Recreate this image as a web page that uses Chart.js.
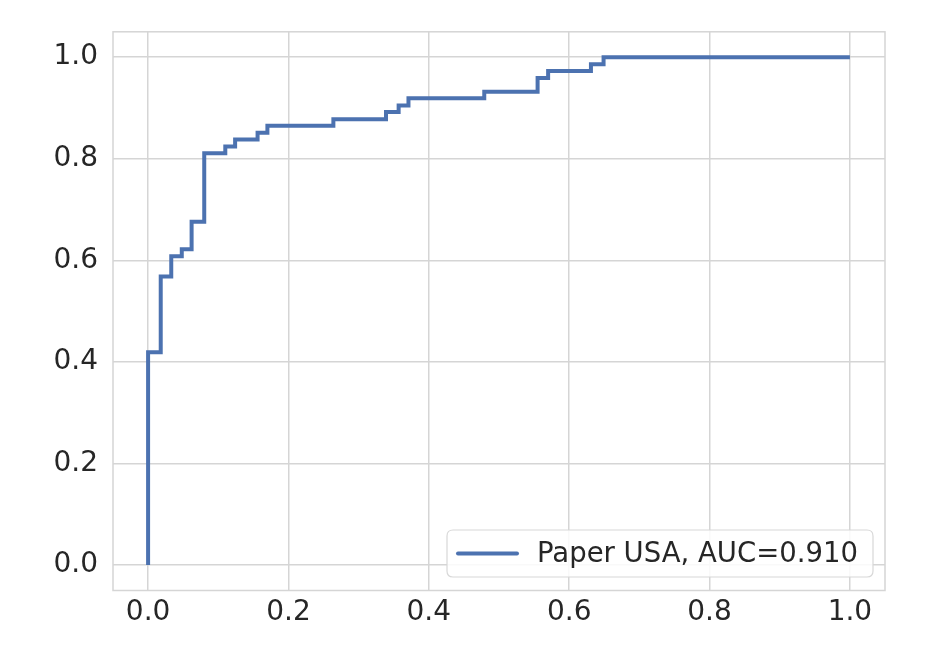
<!DOCTYPE html>
<html>
<head>
<meta charset="utf-8">
<script src="https://cdn.jsdelivr.net/npm/chart.js@4/dist/chart.umd.min.js"></script>
<style>
  html, body { margin: 0; padding: 0; background: #ffffff; }
  #wrap { width: 949px; height: 657px; }
</style>
</head>
<body>
<div id="wrap"><canvas id="c" width="949" height="657"></canvas></div>
<script>
// ROC curve corner points (false positive rate, true positive rate)
const fpr = [0, 0, 0.018, 0.018, 0.033, 0.033, 0.048, 0.048, 0.062, 0.062, 0.080, 0.080,
             0.110, 0.110, 0.124, 0.124, 0.156, 0.156, 0.170, 0.170, 0.264, 0.264,
             0.339, 0.339, 0.357, 0.357, 0.371, 0.371, 0.479, 0.479, 0.555, 0.555,
             0.570, 0.570, 0.631, 0.631, 0.649, 0.649, 1.0];
const tpr = [0, 0.419, 0.419, 0.568, 0.568, 0.608, 0.608, 0.622, 0.622, 0.676, 0.676, 0.811,
             0.811, 0.824, 0.824, 0.838, 0.838, 0.851, 0.851, 0.865, 0.865, 0.878,
             0.878, 0.892, 0.892, 0.905, 0.905, 0.919, 0.919, 0.932, 0.932, 0.959,
             0.959, 0.973, 0.973, 0.986, 0.986, 1.0, 1.0];
const seriesLabel = "Paper USA, AUC=0.910";
const xTicks = [0.0, 0.2, 0.4, 0.6, 0.8, 1.0];
const yTicks = [0.0, 0.2, 0.4, 0.6, 0.8, 1.0];

const LINE = '#4c72b0';
const GRID = '#d5d5d5';
const TEXT = '#262626';
const FONT = "'DejaVu Sans', sans-serif";
const FS = 28;
const LFS = 27.5;

const points = fpr.map((x, i) => ({ x: x, y: tpr[i] }));

const framePlugin = {
  id: 'frame',
  afterDraw(chart) {
    const { ctx, chartArea: a } = chart;
    ctx.save();
    ctx.strokeStyle = GRID;
    ctx.lineWidth = 1.5;
    ctx.strokeRect(a.left, a.top, a.right - a.left, a.bottom - a.top);
    // legend box
    const w = 426, h = 47;
    const bx = a.right - 12 - w, by = a.bottom - 13.5 - h;
    const r = 6;
    ctx.beginPath();
    ctx.moveTo(bx + r, by);
    ctx.lineTo(bx + w - r, by);
    ctx.quadraticCurveTo(bx + w, by, bx + w, by + r);
    ctx.lineTo(bx + w, by + h - r);
    ctx.quadraticCurveTo(bx + w, by + h, bx + w - r, by + h);
    ctx.lineTo(bx + r, by + h);
    ctx.quadraticCurveTo(bx, by + h, bx, by + h - r);
    ctx.lineTo(bx, by + r);
    ctx.quadraticCurveTo(bx, by, bx + r, by);
    ctx.closePath();
    ctx.fillStyle = 'rgba(255,255,255,0.85)';
    ctx.fill();
    ctx.strokeStyle = '#d8d8d8';
    ctx.lineWidth = 1.2;
    ctx.stroke();
    const cy = by + h / 2;
    ctx.beginPath();
    ctx.moveTo(bx + 11, cy);
    ctx.lineTo(bx + 70, cy);
    ctx.strokeStyle = LINE;
    ctx.lineWidth = 4;
    ctx.lineCap = 'round';
    ctx.stroke();
    ctx.fillStyle = TEXT;
    ctx.font = LFS + 'px ' + FONT;
    ctx.textBaseline = 'middle';
    ctx.textAlign = 'left';
    ctx.fillText(seriesLabel, bx + 90, cy + 1);
    ctx.restore();
  }
};

new Chart(document.getElementById('c'), {
  type: 'line',
  data: {
    datasets: [{
      label: seriesLabel,
      data: points,
      borderColor: LINE,
      borderWidth: 4,
      pointRadius: 0,
      tension: 0,
      fill: false,
      borderJoinStyle: 'miter',
      borderCapStyle: 'butt'
    }]
  },
  options: {
    responsive: false,
    animation: false,
    devicePixelRatio: 1,
    layout: { padding: { top: 29.5, right: 64, left: 0, bottom: 0 } },
    plugins: { legend: { display: false }, tooltip: { enabled: false } },
    scales: {
      x: {
        type: 'linear',
        min: -0.05, max: 1.05,
        afterBuildTicks: s => { s.ticks = xTicks.map(v => ({ value: v })); },
        afterFit: s => { s.height = 66.5; },
        grid: { color: GRID, lineWidth: 1.5, drawTicks: false },
        border: { display: false },
        ticks: {
          color: TEXT, font: { family: FONT, size: FS }, padding: 5,
          maxRotation: 0, autoSkip: false,
          callback: v => Number(v).toFixed(1)
        }
      },
      y: {
        type: 'linear',
        min: -0.05, max: 1.05,
        afterBuildTicks: s => { s.ticks = yTicks.map(v => ({ value: v })); },
        afterFit: s => { s.width = 113; },
        grid: { color: GRID, lineWidth: 1.5, drawTicks: false },
        border: { display: false },
        ticks: {
          color: TEXT, font: { family: FONT, size: FS }, padding: 15,
          autoSkip: false,
          callback: v => Number(v).toFixed(1)
        }
      }
    }
  },
  plugins: [framePlugin]
});
</script>
</body>
</html>
